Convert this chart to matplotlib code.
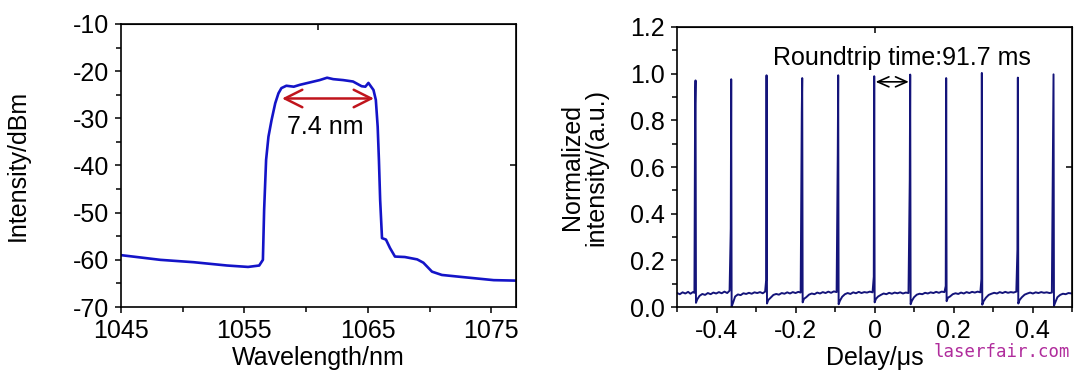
import numpy as np
import matplotlib
matplotlib.use("Agg")
import matplotlib.pyplot as plt
from matplotlib.ticker import MultipleLocator, FixedLocator

plt.rcParams["font.family"] = ["Liberation Sans", "DejaVu Sans"]
plt.rcParams["font.size"] = 18
plt.rcParams["axes.unicode_minus"] = False

# --- left panel: optical spectrum ---
wavelength_nm = [1045.0, 1048.2, 1050.9, 1053.6, 1055.3, 1056.2, 1056.5, 1056.6, 1056.76,
                 1056.95, 1057.2, 1057.5, 1057.76, 1058.0, 1058.4, 1059.0, 1059.5, 1060.3,
                 1061.1, 1061.7, 1062.2, 1063.0, 1063.8, 1064.5, 1064.8, 1065.05, 1065.46,
                 1065.65, 1065.8, 1065.9, 1066.0, 1066.15, 1066.47, 1066.8, 1067.2, 1068.0,
                 1069.0, 1069.5, 1070.2, 1071.0, 1072.5, 1075.2, 1077.0]
intensity_dbm = [-59.0, -60.0, -60.5, -61.2, -61.5, -61.2, -60.0, -49.4, -38.8,
                 -33.9, -30.4, -26.8, -24.7, -23.6, -23.1, -23.3, -22.9, -22.4,
                 -21.9, -21.4, -21.7, -21.9, -22.2, -23.2, -23.3, -22.5, -24.0,
                 -26.1, -31.8, -38.8, -47.3, -55.4, -55.7, -57.5, -59.3, -59.4,
                 -59.9, -60.6, -62.5, -63.2, -63.6, -64.3, -64.4]
wl_ticks = [1045, 1055, 1065, 1075]
fwhm_edges_nm = [1058.05, 1065.5]
fwhm_level_dbm = -25.8
fwhm_label = "7.4 nm"

# --- right panel: pulse train ---
pulse_t = [-0.4532, -0.3629, -0.2734, -0.1831, -0.0920, -0.0008,
           0.0903, 0.1814, 0.2717, 0.3629, 0.4532]
pulse_peak = [0.971, 0.976, 0.993, 0.981, 0.993, 0.989, 0.996, 0.981, 1.003, 0.983, 0.997]
pulse_shoulder = [0.869, 0.336, 0.114, 0.833, 0.653, 0.130, 0.547, 0.090, 0.120, 0.246, 0.774]
pulse_dip = [0.018, 0.002, 0.015, 0.020, 0.012, 0.020, 0.012, 0.025, 0.010, 0.015, 0.005]

base_t = [-0.500, -0.493, -0.486, -0.479, -0.472, -0.466, -0.460, -0.456,
          -0.443, -0.436, -0.429, -0.422, -0.415, -0.408, -0.401, -0.394, -0.387, -0.380, -0.373, -0.367,
          -0.353, -0.346, -0.339, -0.332, -0.325, -0.318, -0.311, -0.304, -0.297, -0.290, -0.283, -0.277,
          -0.263, -0.256, -0.249, -0.242, -0.235, -0.228, -0.221, -0.214, -0.207, -0.200, -0.193, -0.187,
          -0.173, -0.166, -0.159, -0.152, -0.145, -0.138, -0.131, -0.124, -0.117, -0.110, -0.103, -0.096,
          -0.082, -0.075, -0.068, -0.061, -0.054, -0.047, -0.040, -0.033, -0.026, -0.019, -0.012, -0.005,
          0.009, 0.016, 0.023, 0.030, 0.037, 0.044, 0.051, 0.058, 0.065, 0.072, 0.079, 0.086,
          0.100, 0.107, 0.114, 0.121, 0.128, 0.135, 0.142, 0.149, 0.156, 0.163, 0.170, 0.177,
          0.191, 0.198, 0.205, 0.212, 0.219, 0.226, 0.233, 0.240, 0.247, 0.254, 0.261, 0.268,
          0.282, 0.289, 0.296, 0.303, 0.310, 0.317, 0.324, 0.331, 0.338, 0.345, 0.352, 0.359,
          0.373, 0.380, 0.387, 0.394, 0.401, 0.408, 0.415, 0.422, 0.429, 0.436, 0.443, 0.449,
          0.463, 0.470, 0.477, 0.484, 0.491, 0.500]
base_y = [0.060, 0.055, 0.063, 0.058, 0.065, 0.057, 0.064, 0.061,
          0.048, 0.056, 0.052, 0.060, 0.055, 0.062, 0.058, 0.064, 0.059, 0.066, 0.060, 0.070,
          0.045, 0.054, 0.051, 0.059, 0.056, 0.061, 0.057, 0.063, 0.060, 0.064, 0.059, 0.066,
          0.040, 0.052, 0.056, 0.053, 0.060, 0.057, 0.063, 0.058, 0.064, 0.060, 0.065, 0.062,
          0.042, 0.053, 0.058, 0.055, 0.062, 0.058, 0.064, 0.060, 0.066, 0.061, 0.067, 0.064,
          0.044, 0.055, 0.060, 0.056, 0.063, 0.059, 0.065, 0.060, 0.064, 0.062, 0.066, 0.063,
          0.045, 0.052, 0.058, 0.055, 0.061, 0.057, 0.062, 0.059, 0.063, 0.058, 0.062, 0.060,
          0.042, 0.053, 0.057, 0.055, 0.061, 0.058, 0.063, 0.060, 0.065, 0.061, 0.066, 0.064,
          0.045, 0.055, 0.059, 0.056, 0.062, 0.058, 0.064, 0.060, 0.065, 0.062, 0.066, 0.063,
          0.040, 0.052, 0.057, 0.061, 0.058, 0.064, 0.060, 0.065, 0.061, 0.064, 0.062, 0.066,
          0.042, 0.053, 0.058, 0.062, 0.058, 0.063, 0.060, 0.064, 0.061, 0.063, 0.060, 0.062,
          0.042, 0.052, 0.057, 0.055, 0.060, 0.058]
delay_ticks = [-0.4, -0.2, 0, 0.2, 0.4]
delay_ticklabels = ["-0.4", "-0.2", "0", "0.2", "0.4"]
norm_ticks = [0, 0.2, 0.4, 0.6, 0.8, 1.0, 1.2]
norm_ticklabels = ["0.0", "0.2", "0.4", "0.6", "0.8", "1.0", "1.2"]
roundtrip_span = [-0.0008, 0.0903]
roundtrip_level = 0.965
roundtrip_label = "Roundtrip time:91.7 ms"

BLUE = "#1414c8"
NAVY = "#14147a"
RED = "#c0141c"


def pulse_trace():
    # merge baseline samples with the few samples that make up each pulse
    d = 0.0011
    t = list(base_t); y = list(base_y)
    for p, pk, sh, dp in zip(pulse_t, pulse_peak, pulse_shoulder, pulse_dip):
        t += [p - d, p, p + d, p + 4 * d]
        y += [sh, pk, dp, dp + 0.015]
    order = np.argsort(t)
    return np.array(t)[order], np.array(y)[order]


def style(ax):
    for s in ax.spines.values():
        s.set_linewidth(1.2)
    ax.tick_params(which="both", direction="out", width=1.1, pad=4)
    ax.tick_params(which="major", length=4.5)
    ax.tick_params(which="minor", length=3.5)


fig = plt.figure(figsize=(10.8, 3.8), dpi=100)
ax1 = fig.add_axes([0.112, 0.192, 0.3657, 0.745])
ax2 = fig.add_axes([0.6269, 0.192, 0.3657, 0.737])

ax1.plot(wavelength_nm, intensity_dbm, color=BLUE, lw=1.9)
ax1.set_xlim(1045, 1077)
ax1.set_ylim(-70, -10)
ax1.xaxis.set_major_locator(FixedLocator(wl_ticks))
ax1.xaxis.set_minor_locator(FixedLocator([1050, 1060, 1070]))
ax1.yaxis.set_major_locator(MultipleLocator(10))
ax1.yaxis.set_minor_locator(MultipleLocator(5))
ax1.annotate("", xy=(fwhm_edges_nm[0], fwhm_level_dbm), xytext=(fwhm_edges_nm[1], fwhm_level_dbm),
             arrowprops=dict(arrowstyle="<->,head_length=0.7,head_width=0.35", color=RED, lw=1.8,
                             shrinkA=0, shrinkB=0))
ax1.text(np.mean(fwhm_edges_nm) - 0.2, -31.8, fwhm_label, ha="center", va="center")
ax1.set_xlabel("Wavelength/nm", labelpad=2)
ax1.set_ylabel("Intensity/dBm")
ax1.yaxis.set_label_coords(-0.232, 0.5)
style(ax1)

t, y = pulse_trace()
ax2.plot(t, y, color=NAVY, lw=1.4)
ax2.set_xlim(-0.5, 0.5)
ax2.set_ylim(0, 1.2)
ax2.set_xticks(delay_ticks, delay_ticklabels)
ax2.set_yticks(norm_ticks, norm_ticklabels)
ax2.xaxis.set_minor_locator(MultipleLocator(0.1))
ax2.yaxis.set_minor_locator(MultipleLocator(0.1))
ax2.annotate("", xy=(roundtrip_span[0], roundtrip_level), xytext=(roundtrip_span[1], roundtrip_level),
             arrowprops=dict(arrowstyle="<->,head_length=0.45,head_width=0.2", color="black", lw=1.2,
                             shrinkA=1, shrinkB=1))
ax2.text(0.0696, 1.069, roundtrip_label, ha="center", va="center")
ax2.set_xlabel("Delay/μs", labelpad=2)
ax2.set_ylabel("Normalized\nintensity/(a.u.)", linespacing=1.0)
ax2.yaxis.set_label_coords(-0.175, 0.5)
style(ax2)

# Origin-style single tick at the middle of the top and right axes
for ax, (x0, x1), (y0, y1) in [(ax1, (1045, 1077), (-70, -10)), (ax2, (-0.5, 0.5), (0, 1.2))]:
    top = ax.secondary_xaxis("top")
    top.set_xticks([(x0 + x1) / 2], [""])
    top.tick_params(direction="in", length=4, width=1.1)
    right = ax.secondary_yaxis("right")
    right.set_yticks([(y0 + y1) / 2], [""])
    right.tick_params(direction="in", length=4, width=1.1)

fig.text(0.991, 0.074, "laserfair.com", family="DejaVu Sans Mono", fontsize=12.5,
         color="#b02c9c", ha="right", va="center")

fig.savefig("out.png", dpi=100)
